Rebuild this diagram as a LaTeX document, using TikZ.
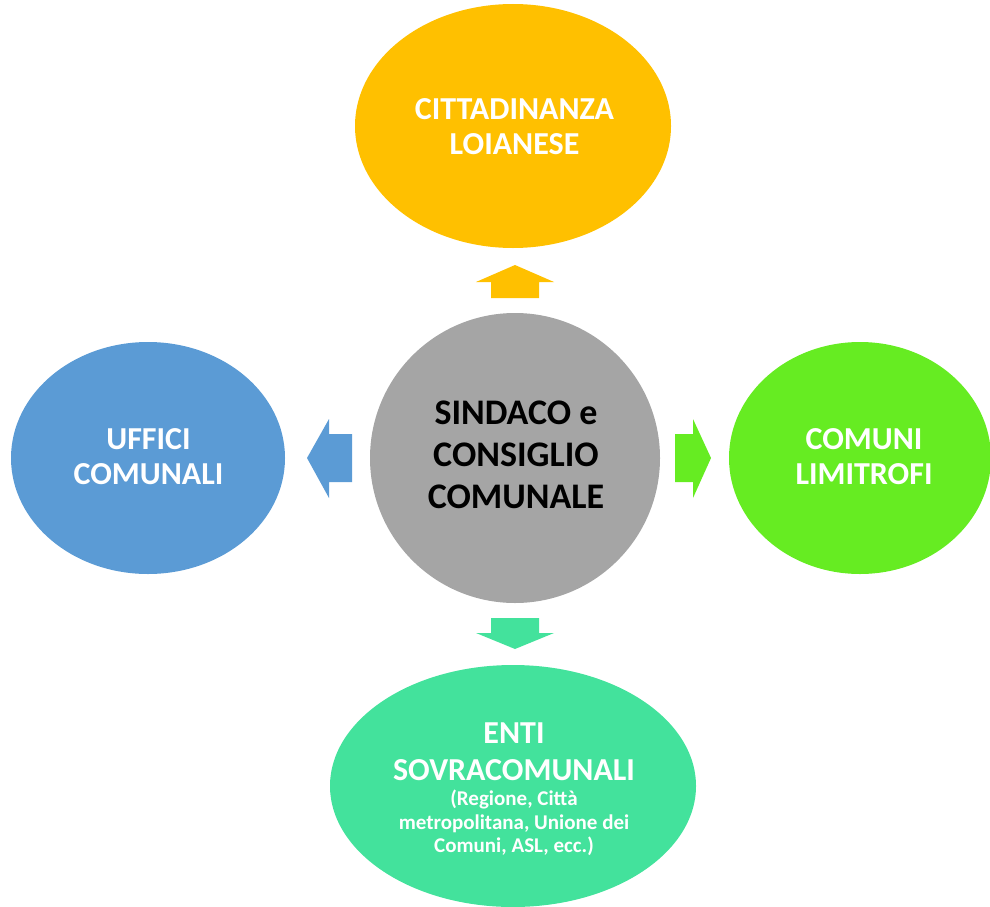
\documentclass[tikz,border=0pt]{standalone}
\usepackage{fontspec}
\usetikzlibrary{shapes.geometric}
\setmainfont{Carlito}
\definecolor{cyellow}{HTML}{FFC000}
\definecolor{cgray}{HTML}{A5A5A5}
\definecolor{cblue}{HTML}{5B9BD5}
\definecolor{cgreen}{HTML}{66EC22}
\definecolor{cteal}{HTML}{43E29C}
\begin{document}
\begin{tikzpicture}[x=1pt,y=-1pt,
  blob/.style={ellipse, inner sep=0pt, outer sep=0pt},
  lbl/.style={inner sep=0pt, align=center, text=white, font=\bfseries\fontsize{32}{35}\selectfont}]
\useasboundingbox (0,0) rectangle (990,907);
\clip (0,0) rectangle (990,907);
% shapes
\node[blob, fill=cyellow, minimum width=316pt, minimum height=244pt] (top) at (513,126) {};
\node[blob, circle, fill=cgray, minimum size=290pt] (center) at (515,458) {};
\node[blob, fill=cblue, minimum width=274pt, minimum height=232pt] (left) at (148,458) {};
\node[blob, fill=cgreen, minimum width=262pt, minimum height=232pt] (right) at (860,458) {};
\node[blob, fill=cteal, minimum width=366pt, minimum height=242pt] (bottom) at (513,786) {};
% texts
\node[lbl] (toptxt) at (514.5,127) {CITTADINANZA\\LOIANESE};
\node[lbl, text=black, font=\bfseries\fontsize{36}{42}\selectfont] (centertxt) at (516,455) {SINDACO e\\CONSIGLIO\\COMUNALE};
\node[lbl] (lefttxt) at (148.5,457) {UFFICI\\COMUNALI};
\node[lbl] (righttxt) at (864,457) {COMUNI\\LIMITROFI};
\node[lbl, font=\bfseries\fontsize{32}{37}\selectfont] (bottomtxt) at (514,752) {ENTI\\SOVRACOMUNALI};
\node[lbl, font=\bfseries\fontsize{21}{23.3}\selectfont] (bottomsub) at (514,823) {(Regione, Città\\metropolitana, Unione dei\\Comuni, ASL, ecc.)};
% block arrows
\fill[cyellow] (491,298) -- (491,282) -- (476,282) -- (515,265) -- (554,282) -- (539,282) -- (539,298) -- cycle;
\fill[cteal] (491,618) -- (491,633) -- (476,633) -- (515,649) -- (554,633) -- (539,633) -- (539,618) -- cycle;
\fill[cblue] (352,434) -- (329,434) -- (329,419) -- (307,458) -- (329,498) -- (329,482) -- (352,482) -- cycle;
\fill[cgreen] (675,434) -- (693,434) -- (693,419) -- (711,458) -- (693,498) -- (693,482) -- (675,482) -- cycle;
\end{tikzpicture}
\end{document}
